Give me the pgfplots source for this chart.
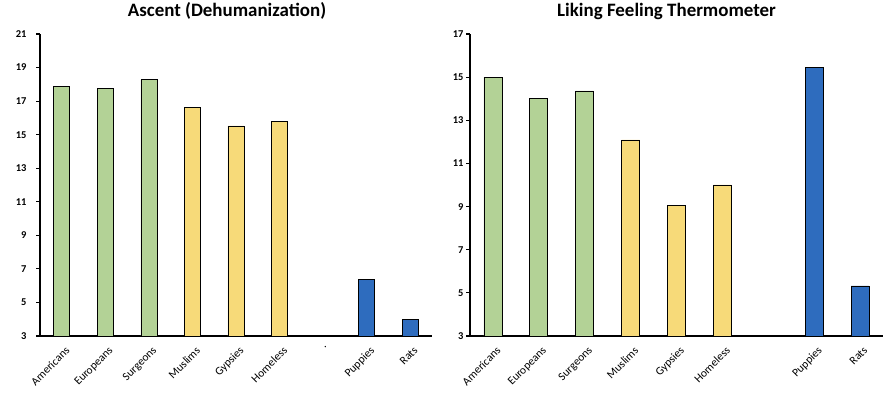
\documentclass[border=0pt]{standalone}
\usepackage{fontspec}
\setmainfont{Carlito}
\usepackage{pgfplots}
\pgfplotsset{compat=1.18}
\definecolor{cgreen}{RGB}{179,210,150}
\definecolor{cyellow}{RGB}{247,218,121}
\definecolor{cblue}{RGB}{46,108,190}
\pgfplotsset{
  mybars/.style={
    scale only axis,
    anchor=south west,
    xmin=-0.5, xmax=8.5,
    axis x line*=bottom, axis y line*=left,
    axis line style={line width=1.6bp, black, -},
    xtick={0,...,8},
    major x tick style={draw=none},
    y tick style={line width=1.2bp, black},
    major tick length=4bp,
    tick align=outside,
    /pgf/number format/assume math mode=true,
    yticklabel style={font=\fontsize{10.5}{12}\selectfont\bfseries},
    xticklabel style={rotate=45, anchor=north east, font=\fontsize{11.5}{13}\selectfont, inner sep=1bp, yshift=-5bp, xshift=-1bp},
    title style={font=\fontsize{19}{22}\selectfont\bfseries, anchor=base, yshift=12bp},
    ybar, bar shift=0pt,
    every axis plot/.append style={draw=black, line width=0.7bp},
    clip=false,
  }
}
\begin{document}
\begin{tikzpicture}
\useasboundingbox (0,0) rectangle (884bp,396bp);
\begin{axis}[mybars,
  at={(40bp,60bp)}, width=392bp, height=302bp,
  ymin=3, ymax=21, ytick={3,5,...,21},
  yticklabel style={xshift=-6bp},
  bar width=16bp,
  xticklabels={Americans,Europeans,Surgeons,Muslims,Gypsies,Homeless,.,Puppies,Rats},
  title={Ascent (Dehumanization)},
  title style={at={(0.477,1)}},
]
\addplot[fill=cgreen] coordinates {(0,17.85) (1,17.75) (2,18.28)};
\addplot[fill=cyellow] coordinates {(3,16.6) (4,15.52) (5,15.78)};
\addplot[fill=cblue] coordinates {(7,6.35) (8,3.98)};
\end{axis}
\begin{axis}[mybars,
  at={(470bp,60bp)}, width=413bp, height=302bp,
  ymin=3, ymax=17, ytick={3,5,...,17},
  yticklabel style={xshift=1bp},
  bar width=18bp,
  xticklabels={Americans,Europeans,Surgeons,Muslims,Gypsies,Homeless,{},Puppies,Rats},
  title={Liking Feeling Thermometer},
  title style={at={(0.476,1)}},
]
\addplot[fill=cgreen] coordinates {(0,15.0) (1,14.03) (2,14.36)};
\addplot[fill=cyellow] coordinates {(3,12.09) (4,9.07) (5,10.0)};
\addplot[fill=cblue] coordinates {(7,15.47) (8,5.32)};
\end{axis}
\end{tikzpicture}
\end{document}
